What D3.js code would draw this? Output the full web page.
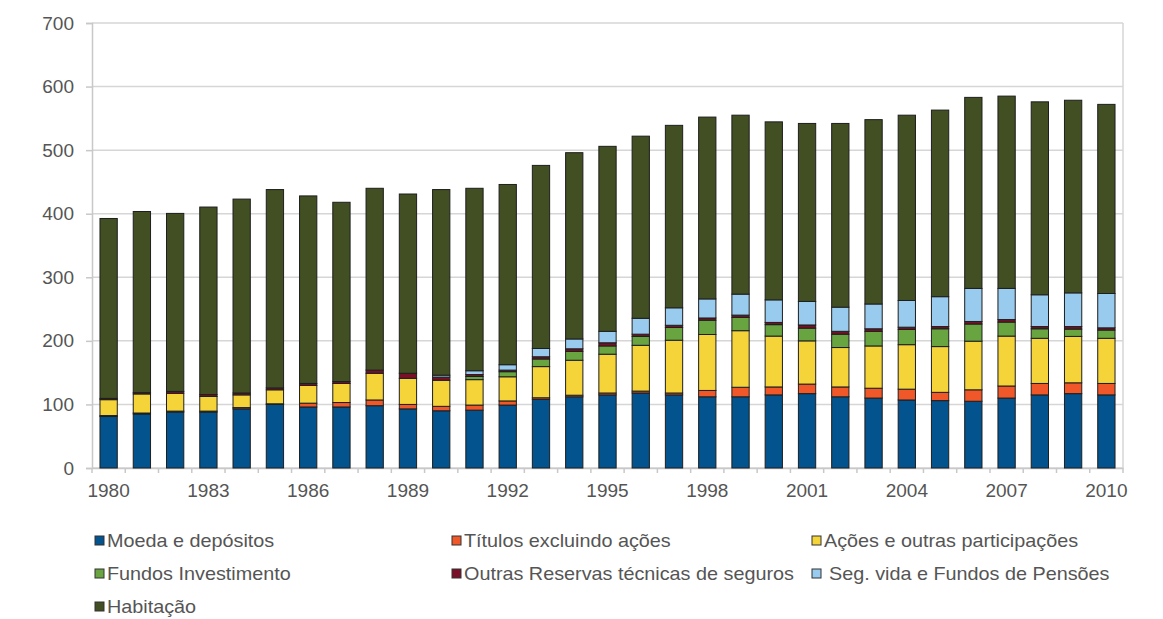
<!DOCTYPE html>
<html>
<head>
<meta charset="utf-8">
<script src="https://cdn.jsdelivr.net/npm/d3@7"></script>
<style>
  body { margin: 0; background: #fff; }
  svg { display: block; font-family: "Liberation Sans", Arial, sans-serif; }
</style>
</head>
<body>
<div class="svg-container"></div>
<script>
// data
const years = d3.range(1980, 2011);
const yTicks = [0, 100, 200, 300, 400, 500, 600, 700];
const xTickYears = [1980, 1983, 1986, 1989, 1992, 1995, 1998, 2001, 2004, 2007, 2010];

const seriesNames = ['Moeda e depósitos', 'Títulos excluindo ações', 'Ações e outras participações',
    'Fundos Investimento', 'Outras Reservas técnicas de seguros', 'Seg. vida e Fundos de Pensões', 'Habitação'];
const seriesColors = ['#02538e', '#f0582a', '#f5d43a', '#68a540', '#7a1028', '#98cbed', '#414f22'];

const moeda = [81, 85, 88, 88, 93, 100, 96, 96, 98, 93, 90, 91, 99, 108, 112, 115, 118, 115, 112, 112,
    115, 117, 112, 110, 107, 106, 105, 110, 115, 117, 115];
const titulos = [1.5, 1.5, 1.5, 1.5, 2, 1, 6, 7, 9, 7, 7, 8, 6.5, 2.5, 2.5, 3, 3, 3, 10, 15,
    12.5, 15, 15.5, 15.5, 17, 13, 18, 19, 18, 17, 18];
const acoes = [25, 30, 28, 23, 20, 22, 28, 30, 42, 41, 41, 40, 38, 49, 55, 61, 72, 83, 88, 89,
    80, 68, 62, 66.5, 70, 72, 76.5, 78.5, 71, 73, 71];
const fundos = [0, 0, 0, 0, 0, 0, 0, 0, 0, 0, 0, 5, 8, 12, 14, 13, 14, 20, 22.5, 21,
    18, 20, 21, 23, 24, 28, 27, 22, 15, 11.5, 13];
const outras = [2, 2, 3, 3, 3, 3, 3, 3, 5, 8, 5, 3, 2.5, 3.5, 4, 5, 3.5, 3.5, 3.5, 3.5,
    3.5, 5, 4.5, 4, 3.5, 3.5, 4, 4, 3.5, 4, 3.5];
const segVida = [0, 0, 0, 0, 0, 0, 0, 0, 0, 0, 3, 6, 8.5, 13, 15.5, 18, 25, 27.5, 30, 33,
    35.5, 37, 38, 39, 42, 47, 52, 49, 50, 53, 54];
const habitacao = [283, 285, 280, 295, 305, 312, 295, 282, 286, 282, 292, 287, 283.5, 288, 293, 291, 286.5, 287, 286, 281.5,
    280, 280, 289, 290, 291.5, 293.5, 300.5, 302.5, 303.5, 303, 297.5];

const seriesValues = [moeda, titulos, acoes, fundos, outras, segVida, habitacao];

// table for d3.stack
const table = years.map(function (y, i) {
    let row = { year: y };
    seriesNames.forEach(function (name, k) { row[name] = seriesValues[k][i]; });
    return row;
});

const W = 1163, H = 619;
const margin = { top: 23, right: 40, bottom: 151, left: 92 };
const width = W - margin.left - margin.right,
      height = H - margin.top - margin.bottom;

const svg = d3.select('.svg-container').append('svg')
    .attr('width', W).attr('height', H);

const g = svg.append('g').attr('transform', `translate(${margin.left},${margin.top})`);

const xScale = d3.scaleBand().domain(years).range([0, width]).paddingInner(0.48).paddingOuter(0.24);
const yScale = d3.scaleLinear().domain([0, 700]).range([height, 0]);

// gridlines
g.selectAll('.grid').data(yTicks).enter().append('line')
    .attr('x1', 0).attr('x2', width)
    .attr('y1', d => yScale(d)).attr('y2', d => yScale(d))
    .attr('stroke', '#d6d6d6').attr('stroke-width', 1.5);
// right border
g.append('line').attr('x1', width).attr('x2', width).attr('y1', 0).attr('y2', height)
    .attr('stroke', '#d6d6d6').attr('stroke-width', 1.5);

// y axis
const yAxis = g.append('g').call(d3.axisLeft(yScale).tickValues(yTicks).tickSize(6).tickPadding(12));
yAxis.select('.domain').attr('stroke', '#c8c8c8').attr('stroke-width', 1.5);
yAxis.selectAll('.tick line').attr('stroke', '#c8c8c8').attr('stroke-width', 1.5);
yAxis.selectAll('text').style('font-size', '19px').attr('fill', '#555');

// x axis
const xAxis = g.append('g').attr('transform', `translate(0,${height})`)
    .call(d3.axisBottom(xScale).tickValues(xTickYears).tickSize(0).tickPadding(16));
xAxis.select('.domain').attr('stroke', '#c8c8c8').attr('stroke-width', 1.5);
xAxis.selectAll('text').style('font-size', '19px').attr('fill', '#555');
// tick marks at category boundaries
const step = xScale.step();
g.selectAll('.xtick').data(d3.range(years.length + 1)).enter().append('line')
    .attr('x1', i => i * step).attr('x2', i => i * step)
    .attr('y1', height).attr('y2', height + 5)
    .attr('stroke', '#c8c8c8').attr('stroke-width', 1.5);

// stacked bars
const stacked = d3.stack().keys(seriesNames)(table);
g.selectAll('.layer').data(stacked).enter().append('g')
    .attr('fill', (d, i) => seriesColors[i])
    .selectAll('rect').data(d => d).enter().append('rect')
    .attr('x', d => xScale(d.data.year))
    .attr('y', d => yScale(d[1]))
    .attr('width', xScale.bandwidth())
    .attr('height', d => yScale(d[0]) - yScale(d[1]))
    .attr('stroke', '#1e1e1e').attr('stroke-width', 1);

// legend
const legendCols = [95, 452, 812], legendRows = [541, 574, 607];
const legend = svg.selectAll('.legend').data(seriesNames).enter().append('g')
    .attr('transform', (d, i) => `translate(${legendCols[i % 3]},${legendRows[Math.floor(i / 3)]})`);
legend.append('rect')
    .attr('x', 0).attr('y', -5).attr('width', 9).attr('height', 9)
    .attr('fill', (d, i) => seriesColors[i])
    .attr('stroke', '#333').attr('stroke-width', 1);
legend.append('text')
    .attr('transform', (d, i) => `translate(${i === 5 ? 17 : 12},0) scale(1.1,1)`)
    .attr('dy', '0.35em')
    .style('font-size', '18px').attr('fill', '#555')
    .text(d => d);
</script>
</body>
</html>
